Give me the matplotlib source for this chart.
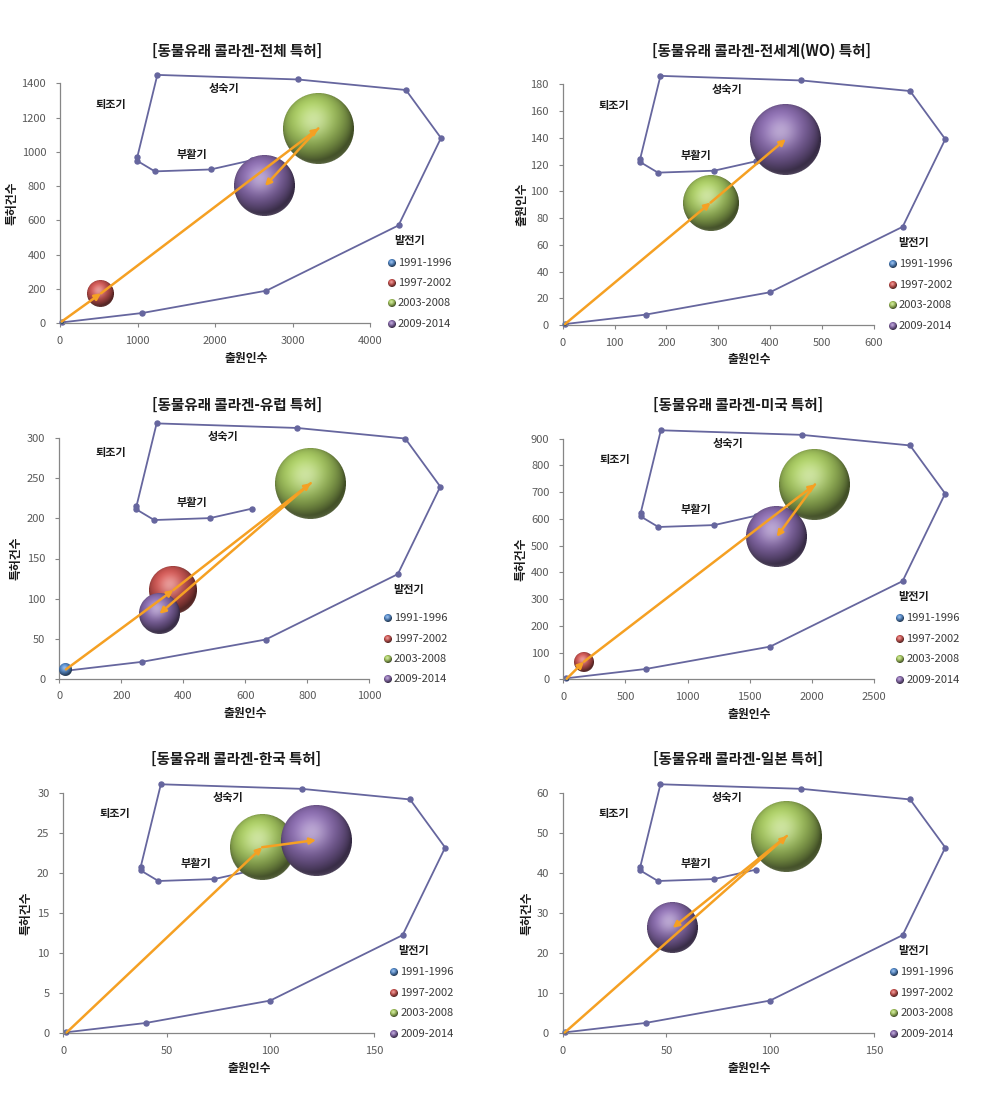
import numpy as np
import matplotlib
matplotlib.use('Agg')
import matplotlib.pyplot as plt
from matplotlib.offsetbox import OffsetImage, AnnotationBbox
from matplotlib.colors import to_rgb

plt.rcParams['font.family'] = ['Noto Sans CJK KR', 'DejaVu Sans']

# ---------------- data ----------------
TITLES = ['[동물유래 콜라겐-전체 특허]', '[동물유래 콜라겐-전세계(WO) 특허]',
          '[동물유래 콜라겐-유럽 특허]', '[동물유래 콜라겐-미국 특허]',
          '[동물유래 콜라겐-한국 특허]', '[동물유래 콜라겐-일본 특허]']
X_LABELS = ['출원인수'] * 6
Y_LABELS = ['특허건수', '출원인수', '특허건수', '특허건수', '특허건수', '특허건수']
PERIODS = ['1991-1996', '1997-2002', '2003-2008', '2009-2014']
STAGE_LABELS = ['퇴조기', '성숙기', '부활기', '발전기']

X_MAX = [4000, 600, 1000, 2500, 150, 150]
X_STEP = [1000, 100, 200, 500, 50, 50]
Y_MAX = [1400, 180, 300, 900, 30, 60]
Y_STEP = [200, 20, 50, 100, 5, 10]

nan = np.nan
# bubbles (x = 출원인수, y = 특허건수, size = relative bubble size), order = PERIODS
TOTAL_X = [21, 529, 3333, 2645]
TOTAL_Y = [10, 175, 1137, 801]
TOTAL_S = [0.3, 15, 100, 73]

WO_X = [4.5, nan, 285, 430]
WO_Y = [0.7, nan, 91.5, 139]
WO_S = [0.3, nan, 62, 100]

EU_X = [21.5, 368, 811, 323]
EU_Y = [11.6, 110.7, 244, 81]
EU_S = [3.5, 45, 100, 34]

US_X = [27, 166, 2025, 1717]
US_Y = [2, 66, 729, 533]
US_S = [0.3, 8, 100, 74]

KR_X = [1.6, nan, 96, 122]
KR_Y = [0.1, nan, 23.2, 24.1]
KR_S = [0.3, nan, 84, 100]

JP_X = [1.0, nan, 108, 53]
JP_Y = [0.2, nan, 49.2, 26.3]
JP_S = [0.3, nan, 100, 52]

BUBBLES = [(TOTAL_X, TOTAL_Y, TOTAL_S), (WO_X, WO_Y, WO_S), (EU_X, EU_Y, EU_S),
           (US_X, US_Y, US_S), (KR_X, KR_Y, KR_S), (JP_X, JP_Y, JP_S)]

# technology life-cycle curve (fraction of axis maximum)
STAGE_X_FRAC = [0.008, 0.266, 0.666, 1.092, 1.229, 1.116, 0.767, 0.314, 0.249, 0.249, 0.306, 0.486, 0.620]
STAGE_Y_FRAC = [0.004, 0.043, 0.136, 0.408, 0.772, 0.972, 1.016, 1.035, 0.691, 0.677, 0.633, 0.641, 0.680]

# ---------------- style / layout ----------------
COLORS = ['#4F81BD', '#C0504D', '#9BBB59', '#8064A2']
ARROW_C = '#F5A023'
CURVE_C = '#66669E'
TICK_C = '#595959'
SPINE_C = '#868686'

W, H = 994, 1093
# axes boxes in pixels: left, top, right, bottom
BOXES = [(60, 83.3, 370, 323.3), (562.7, 84.3, 874, 325),
         (59.3, 438.3, 369.3, 678.7), (563.3, 438.7, 874, 679.3),
         (63.3, 792.7, 374, 1033.3), (562.7, 792.7, 874, 1033.3)]
TITLE_POS = [(236.7, 50.7), (761.7, 50.7), (236.7, 405), (737.7, 405), (236.5, 759), (737.7, 759)]
YLABEL_OFF = [48, 41, 43, 42, 37, 36]
CURVE_DY = [0, 0, 0.027, 0, 0, 0]
STAGE_POS = [(0.165, 0.913), (0.529, 0.980), (0.427, 0.705), (1.127, 0.344)]
LEG_X = [1.070, 1.060, 1.059, 1.084, 1.065, 1.064]
LEG_Y = [0.253, 0.167, 0.083, -0.003]
DMAX = 71.0


def sphere_img(d, hexcol, ss=4):
    D = max(int(round(d)), 2)
    n = D * ss
    c = (np.arange(n) + 0.5) / n * 2 - 1
    u, v = np.meshgrid(c, -c)
    r2 = u * u + v * v
    inside = (r2 <= 1.0).astype(float)
    z = np.sqrt(np.clip(1 - r2, 0, 1))
    L = np.array([-0.25, 0.45, 0.86]); L /= np.linalg.norm(L)
    diff = np.clip(u * L[0] + v * L[1] + z * L[2], 0, 1)
    base = np.array(to_rgb(hexcol))
    col = base[None, None, :] * (0.42 + 0.72 * diff[..., None])
    Hh = L + np.array([0, 0, 1.0]); Hh /= np.linalg.norm(Hh)
    spec = np.clip(u * Hh[0] + v * Hh[1] + z * Hh[2], 0, 1) ** 10
    col = col + (1 - col) * 0.38 * spec[..., None]
    rim = np.clip(-v - 0.2, 0, 1) * (1 - z) ** 3 * 0.3
    col = col + (1 - col) * rim[..., None]
    col = np.clip(col, 0, 1)
    rgba = np.concatenate([col * inside[..., None], inside[..., None]], axis=2)
    rgba = rgba.reshape(D, ss, D, ss, 4).mean(axis=(1, 3))
    a = rgba[..., 3:4]
    rgb = np.where(a > 0, rgba[..., :3] / np.maximum(a, 1e-6), 0)
    return np.concatenate([rgb, a], axis=2)


fig = plt.figure(figsize=(W / 100, H / 100), dpi=100)

for i in range(6):
    l, t, r, b = BOXES[i]
    ax = fig.add_axes([l / W, 1 - b / H, (r - l) / W, (b - t) / H])
    wpx, hpx = r - l, b - t
    xmax, ymax = X_MAX[i], Y_MAX[i]
    ax.set_xlim(0, xmax)
    ax.set_ylim(0, ymax)
    ax.set_xticks(np.arange(0, xmax + 0.001, X_STEP[i]))
    ax.set_yticks(np.arange(0, ymax + 0.001, Y_STEP[i]))
    for s in ['top', 'right']:
        ax.spines[s].set_visible(False)
    for s in ['left', 'bottom']:
        ax.spines[s].set_color(SPINE_C)
        ax.spines[s].set_linewidth(0.9)
    ax.tick_params(axis='both', direction='out', length=3, width=0.8, color=SPINE_C,
                   labelcolor=TICK_C, labelsize=8)
    ax.tick_params(axis='x', pad=6)
    ax.tick_params(axis='y', pad=7)

    # life-cycle curve
    cx = np.array(STAGE_X_FRAC) * xmax
    cy = (np.array(STAGE_Y_FRAC) + CURVE_DY[i]) * ymax
    ax.plot(cx, cy, color=CURVE_C, lw=1.3, marker='o', ms=3.6, clip_on=False, zorder=2)
    for lab, (fx, fy) in zip(STAGE_LABELS, STAGE_POS):
        ax.text(fx, fy + CURVE_DY[i], lab, transform=ax.transAxes, ha='center', va='center',
                fontsize=8, fontweight='bold', color='#1a1a1a', clip_on=False)

    # bubbles
    bx, by, bs = BUBBLES[i]
    pts = []
    for k in range(4):
        if np.isnan(bx[k]):
            continue
        d = DMAX * np.sqrt(bs[k] / 100.0)
        img = sphere_img(d, COLORS[k])
        ab = AnnotationBbox(OffsetImage(img, zoom=1, dpi_cor=False), (bx[k], by[k]),
                            xycoords='data', frameon=False, pad=0, zorder=3 + k * 0.1,
                            annotation_clip=False)
        ax.add_artist(ab)
        pts.append((bx[k], by[k]))
    for (x0, y0), (x1, y1) in zip(pts[:-1], pts[1:]):
        ax.annotate('', xy=(x1, y1), xytext=(x0, y0),
                    arrowprops=dict(arrowstyle='-|>', color=ARROW_C, lw=1.8,
                                    mutation_scale=9, shrinkA=0, shrinkB=0),
                    zorder=5, annotation_clip=False)

    # legend
    for k in range(4):
        img = sphere_img(8, COLORS[k])
        ab = AnnotationBbox(OffsetImage(img, zoom=1, dpi_cor=False), (LEG_X[i], LEG_Y[k]),
                            xycoords='axes fraction', frameon=False, pad=0,
                            annotation_clip=False)
        ax.add_artist(ab)
        ax.text(LEG_X[i] + 0.02, LEG_Y[k], PERIODS[k], transform=ax.transAxes,
                ha='left', va='center', fontsize=8, color='#3a3a3a', clip_on=False)

    # labels
    ax.set_xlabel(X_LABELS[i], fontsize=8.5, fontweight='bold', color='#1a1a1a')
    ax.xaxis.set_label_coords(0.6, -35 / hpx)
    ax.xaxis.label.set_va('center')
    ax.set_ylabel(Y_LABELS[i], fontsize=8.5, fontweight='bold', color='#1a1a1a')
    ax.yaxis.set_label_coords(-YLABEL_OFF[i] / wpx, 0.5)
    ax.yaxis.label.set_va('center')

    tx, ty = TITLE_POS[i]
    fig.text(tx / W, 1 - ty / H, TITLES[i], ha='center', va='center', fontsize=10.5,
             fontweight='bold', color='#1a1a1a')

fig.savefig('out.png', dpi=100)
